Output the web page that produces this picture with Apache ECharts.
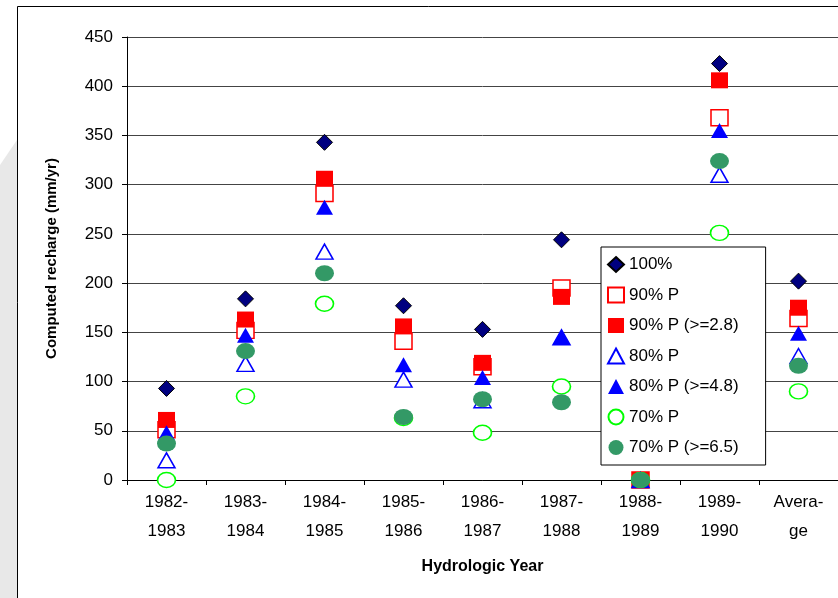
<!DOCTYPE html>
<html lang="en" style="height: 100%">
<head>
    <meta charset="utf-8">
</head>
<body style="height: 100%; margin: 0">
<div id="container" style="height: 100%"></div>

<script type="text/javascript" src="https://fastly.jsdelivr.net/npm/echarts@6/dist/echarts.min.js"></script>

<script type="text/javascript">
    // hydrologic years
    var years = ['1982-\n1983', '1983-\n1984', '1984-\n1985', '1985-\n1986', '1986-\n1987',
        '1987-\n1988', '1988-\n1989', '1989-\n1990', 'Avera-\nge'];

    // computed recharge (mm/yr)
    var rech100 = [93, 184, 343, 177, 153, 244, 0, 423, 202];
    var rech90 = [51, 152, 291, 141, 115, 195, 0, 368, 164];
    var rech90t = [61, 163, 306, 156, 119, 186, 0, 406, 175];
    var rech80 = [20, 118, 232, 102, 81, 145, 0, 310, 126];
    var rech80t = [48, 147, 277, 117, 104, 145, 0, 355, 149];
    var rech70 = [0, 85, 179, 63, 48, 95, 0, 251, 90];
    var rech70t = [37, 131, 210, 64, 82, 79, 0, 324, 116];

    var yTicks = [0, 50, 100, 150, 200, 250, 300, 350, 400, 450];

    var FONT = 'Liberation Sans';

    var dom = document.getElementById('container');
    var myChart = echarts.init(dom, null, {renderer: 'canvas'});

    function sc(name, data, symbol, size, style) {
        style.opacity = 1;
        return {
            name: name,
            type: 'scatter',
            data: data,
            symbol: symbol,
            symbolSize: size,
            itemStyle: style,
            emphasis: {disabled: true}
        };
    }

    var option = {
        animation: false,
        backgroundColor: '#fff',
        textStyle: {fontFamily: FONT},
        graphic: [
            {
                type: 'polygon',
                z: -10,
                shape: {points: [[0, 165], [17, 140], [17, 598], [0, 598]]},
                style: {fill: '#e8e8e8'}
            },
            {
                type: 'rect',
                z: -5,
                shape: {x: 17.5, y: 6.5, width: 900, height: 700},
                style: {fill: null, stroke: '#000', lineWidth: 1}
            }
        ],
        grid: {left: 127, right: 0, top: 37, bottom: 118},
        legend: {
            orient: 'vertical',
            left: 601,
            top: 247,
            z: 10,
            backgroundColor: '#fff',
            borderColor: '#000',
            borderWidth: 1,
            borderRadius: 0,
            padding: [9, 27, 9, 6],
            itemWidth: 16,
            itemHeight: 15,
            itemGap: 13.5,
            textStyle: {fontFamily: FONT, fontSize: 17, color: '#000'},
            data: ['100%', '90% P', '90% P (>=2.8)', '80% P', '80% P (>=4.8)', '70% P', '70% P (>=6.5)']
        },
        xAxis: {
            type: 'category',
            data: years,
            name: 'Hydrologic Year',
            nameLocation: 'middle',
            nameGap: 79,
            nameTextStyle: {fontFamily: FONT, fontSize: 16, fontWeight: 'bold', color: '#000'},
            axisLine: {lineStyle: {color: '#000', width: 1}},
            axisTick: {show: true, length: 5, lineStyle: {color: '#000'}},
            axisLabel: {fontFamily: FONT, fontSize: 17, color: '#000', lineHeight: 29, margin: 8, interval: 0},
            splitLine: {show: false}
        },
        yAxis: {
            type: 'value',
            min: yTicks[0],
            max: yTicks[yTicks.length - 1],
            interval: 50,
            name: 'Computed recharge (mm/yr)',
            nameLocation: 'middle',
            nameGap: 68,
            nameTextStyle: {fontFamily: FONT, fontSize: 15, fontWeight: 'bold', color: '#000'},
            axisLine: {show: true, lineStyle: {color: '#000', width: 1}},
            axisTick: {show: true, length: 5, lineStyle: {color: '#000'}},
            axisLabel: {fontFamily: FONT, fontSize: 17, color: '#000', margin: 14},
            splitLine: {show: true, lineStyle: {color: '#444', width: 1}}
        },
        series: [
            sc('100%', rech100, 'diamond', [16, 16], {color: '#000080', borderColor: '#000', borderWidth: 1}),
            sc('90% P', rech90, 'rect', [17, 16], {color: '#fff', borderColor: '#ff0000', borderWidth: 1.5}),
            sc('90% P (>=2.8)', rech90t, 'rect', [17, 16], {color: '#ff0000'}),
            sc('80% P', rech80, 'triangle', [17, 15], {color: '#fff', borderColor: '#0000ff', borderWidth: 1.5}),
            sc('80% P (>=4.8)', rech80t, 'triangle', [17, 15], {color: '#0000ff'}),
            sc('70% P', rech70, 'circle', [18, 15], {color: '#fff', borderColor: '#00ff00', borderWidth: 1.5}),
            sc('70% P (>=6.5)', rech70t, 'circle', [19, 16], {color: '#339966'})
        ]
    };

    myChart.setOption(option);
    window.addEventListener('resize', myChart.resize);
</script>
</body>
</html>
